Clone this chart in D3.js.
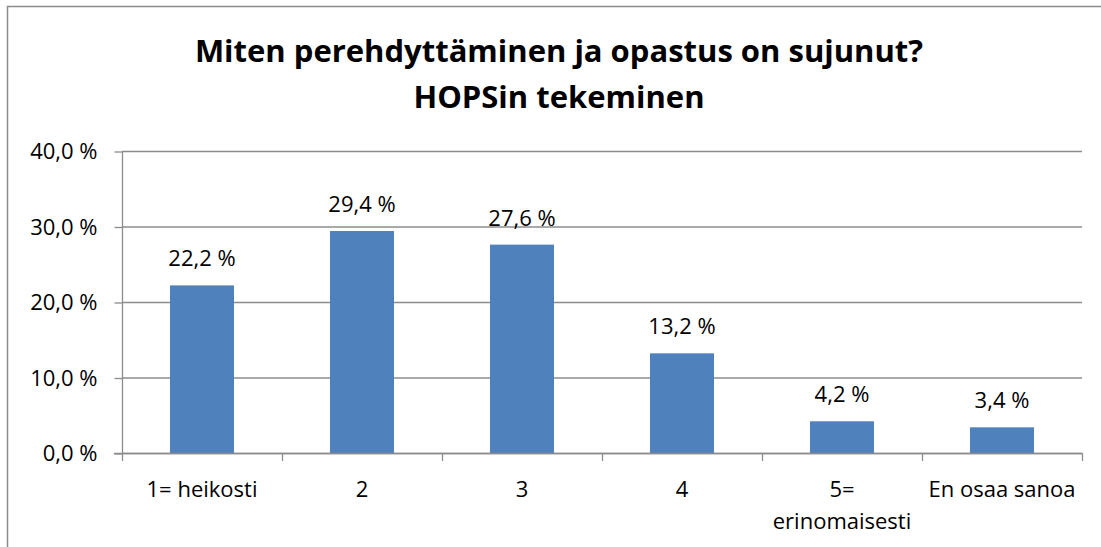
<!DOCTYPE html>
<html>
<head>
<meta charset="utf-8">
<script src="https://cdn.jsdelivr.net/npm/d3@7"></script>
<style>
  body { margin: 0; background: #fff; }
  text { font-family: "Open Sans", sans-serif; fill: #000; }
</style>
</head>
<body>
<svg id="chart" width="1101" height="547"></svg>
<script>
// data
var categories = ["1= heikosti", "2", "3", "4", "5=\nerinomaisesti", "En osaa sanoa"];
var values = [22.2, 29.4, 27.6, 13.2, 4.2, 3.4];
var yTicks = [0, 10, 20, 30, 40];
var titleLines = ["Miten perehdyttäminen ja opastus on sujunut?", "HOPSin tekeminen"];

var svg = d3.select("#chart");
var fmt = function(v) { return d3.format(".1f")(v).replace(".", ",") + " %"; };
var labelSize = "22px";

// outer frame (runs off the right / bottom edge)
svg.append("rect")
  .attr("x", 7.5).attr("y", 6.5)
  .attr("width", 1110).attr("height", 560)
  .attr("fill", "none").attr("stroke", "#8c8c8c").attr("stroke-width", 1.5);

var title = svg.append("g");
titleLines.forEach(function(t, i) {
  title.append("text")
    .attr("x", 559).attr("y", 62 + i * 46)
    .attr("text-anchor", "middle")
    .style("font-size", "31px").style("font-weight", "bold")
    .text(t);
});

var plotL = 122, plotR = 1082, plotT = 151, plotB = 453;

var x = d3.scaleBand().domain(categories).range([plotL, plotR]).padding(0);
var y = d3.scaleLinear().domain([0, 40]).range([plotB, plotT]);

// gridlines
svg.append("g").selectAll("line").data(yTicks).enter().append("line")
  .attr("x1", plotL).attr("x2", plotR)
  .attr("y1", function(d) { return y(d) + 0.5; })
  .attr("y2", function(d) { return y(d) + 0.5; })
  .attr("stroke", "#8c8c8c").attr("stroke-width", 1.3);

// y axis
var yAxis = svg.append("g")
  .attr("transform", "translate(" + (plotL + 0.5) + ",0.5)")
  .call(d3.axisLeft(y).tickValues(yTicks).tickSize(8).tickPadding(17)
    .tickFormat(function(d) { return fmt(d); }));
yAxis.selectAll("line, path").attr("stroke", "#8c8c8c").attr("stroke-width", 1.3);
yAxis.select(".domain").attr("d", "M0," + plotT + "V" + plotB);
yAxis.selectAll("text").style("font-size", labelSize).style("font-family", "'Open Sans', sans-serif").attr("fill", "#000");

// bars
var barW = x.bandwidth() * 0.4;
svg.append("g").selectAll("rect").data(values).enter().append("rect")
  .attr("x", function(d, i) { return x(categories[i]) + (x.bandwidth() - barW) / 2; })
  .attr("y", function(d) { return y(d); })
  .attr("width", barW)
  .attr("height", function(d) { return y(0) - y(d); })
  .attr("fill", "#4f81bd");

// value labels
svg.append("g").selectAll("text").data(values).enter().append("text")
  .attr("x", function(d, i) { return x(categories[i]) + x.bandwidth() / 2; })
  .attr("y", function(d) { return y(d) - 19; })
  .attr("text-anchor", "middle")
  .style("font-size", labelSize)
  .text(function(d) { return fmt(d); });

// x axis line
svg.append("line")
  .attr("x1", plotL - 8).attr("x2", plotR)
  .attr("y1", plotB + 0.5).attr("y2", plotB + 0.5)
  .attr("stroke", "#8c8c8c").attr("stroke-width", 1.3);

// category boundary ticks
var bounds = categories.map(function(c) { return x(c); }).concat([plotR]);
svg.append("g").selectAll("line").data(bounds).enter().append("line")
  .attr("x1", function(d) { return d + 0.5; }).attr("x2", function(d) { return d + 0.5; })
  .attr("y1", plotB).attr("y2", plotB + 8)
  .attr("stroke", "#8c8c8c").attr("stroke-width", 1.3);

// category labels
var cat = svg.append("g").selectAll("text").data(categories).enter().append("text")
  .attr("x", function(d) { return x(d) + x.bandwidth() / 2; })
  .attr("y", 497)
  .attr("text-anchor", "middle")
  .style("font-size", labelSize);
cat.each(function(d) {
  var el = d3.select(this);
  d.split("\n").forEach(function(part, i) {
    el.append("tspan")
      .attr("x", el.attr("x"))
      .attr("dy", i === 0 ? 0 : 32)
      .text(part);
  });
});
</script>
</body>
</html>
